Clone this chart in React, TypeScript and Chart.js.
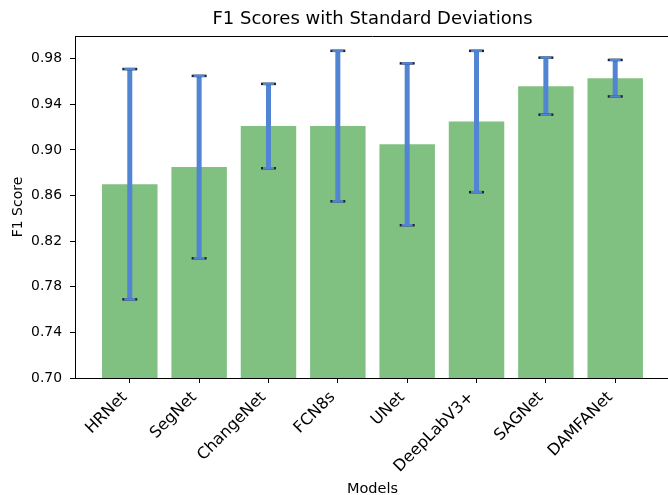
import React, { useEffect, useRef } from "react";
import { Chart, registerables } from "chart.js";

Chart.register(...registerables);

const CATEGORIES = ["HRNet", "SegNet", "ChangeNet", "FCN8s", "UNet", "DeepLabV3+", "SAGNet", "DAMFANet"];
const F1_MEANS = [0.870, 0.885, 0.921, 0.921, 0.905, 0.925, 0.956, 0.963];
const F1_STDS = [0.101, 0.080, 0.037, 0.066, 0.071, 0.062, 0.025, 0.016];
const Y_TICKS = [0.70, 0.74, 0.78, 0.82, 0.86, 0.90, 0.94, 0.98];

const FONT = "'DejaVu Sans', sans-serif";
const BAR_COLOR = "rgb(128,192,128)";
const ERR_COLOR = "rgb(82,132,212)";

const errorBarPlugin = {
  id: "errorBars",
  afterDatasetsDraw(chart: any) {
    const { ctx, scales } = chart;
    const xs = scales.x;
    const ys = scales.y;
    ctx.save();
    F1_MEANS.forEach((m, i) => {
      const s = F1_STDS[i];
      const x = xs.getPixelForValue(i);
      const yTop = ys.getPixelForValue(m + s);
      const yBot = ys.getPixelForValue(m - s);
      ctx.strokeStyle = ERR_COLOR;
      ctx.lineWidth = 5;
      ctx.lineCap = "butt";
      ctx.beginPath();
      ctx.moveTo(x, yTop);
      ctx.lineTo(x, yBot);
      ctx.stroke();
      [yTop, yBot].forEach((y) => {
        ctx.strokeStyle = "#222";
        ctx.lineWidth = 2.5;
        ctx.beginPath();
        ctx.moveTo(x - 7.5, y);
        ctx.lineTo(x + 7.5, y);
        ctx.stroke();
        ctx.strokeStyle = ERR_COLOR;
        ctx.beginPath();
        ctx.moveTo(x - 5.5, y);
        ctx.lineTo(x + 5.5, y);
        ctx.stroke();
      });
    });
    ctx.restore();
  },
};

const framePlugin = {
  id: "frame",
  afterDraw(chart: any) {
    const { ctx, chartArea } = chart;
    ctx.save();
    ctx.strokeStyle = "#000";
    ctx.lineWidth = 1;
    ctx.beginPath();
    ctx.moveTo(chartArea.left, chartArea.top + 0.5);
    ctx.lineTo(chartArea.right, chartArea.top + 0.5);
    ctx.moveTo(chartArea.right - 0.5, chartArea.top);
    ctx.lineTo(chartArea.right - 0.5, chartArea.bottom);
    ctx.stroke();
    ctx.restore();
  },
};

export default function App() {
  const ref = useRef<HTMLCanvasElement | null>(null);

  useEffect(() => {
    if (!ref.current) return;
    const chart = new Chart(ref.current, {
      type: "bar",
      data: {
        datasets: [
          {
            label: "F1",
            data: F1_MEANS.map((v, i) => ({ x: i, y: v })),
            backgroundColor: BAR_COLOR,
            borderWidth: 0,
            barPercentage: 0.8,
            categoryPercentage: 1.0,
          },
        ],
      },
      options: {
        animation: false,
        responsive: false,
        layout: { padding: { left: 0, right: 2, top: 0, bottom: 0 } },
        plugins: {
          legend: { display: false },
          tooltip: { enabled: false },
          title: {
            display: true,
            text: "F1 Scores with Standard Deviations",
            color: "#000",
            fullSize: false,
            font: { family: FONT, size: 18, weight: "normal", lineHeight: 1.2 },
            padding: { top: 9, bottom: 5.4 },
          },
        },
        scales: {
          x: {
            type: "linear",
            offset: false,
            min: -0.79,
            max: 7.79,
            afterBuildTicks: (scale: any) => {
              scale.ticks = CATEGORIES.map((_, i) => ({ value: i }));
            },
            afterFit: (scale: any) => {
              scale.height = 117;
            },
            ticks: {
              color: "#000",
              font: { family: FONT, size: 16 },
              minRotation: 45,
              maxRotation: 45,
              autoSkip: false,
              padding: 5,
              labelOffset: -5,
              callback: (v: any) => CATEGORIES[Math.round(Number(v))] ?? "",
            },
            grid: {
              display: true,
              offset: false,
              drawOnChartArea: false,
              drawTicks: true,
              tickLength: 5,
              tickColor: "#000",
            },
            border: { display: true, color: "#000", width: 1 },
            title: {
              display: true,
              text: "Models",
              color: "#000",
              font: { family: FONT, size: 14.5, lineHeight: 1.0 },
              padding: { top: 0, bottom: -1 },
            },
          },
          y: {
            type: "linear",
            min: 0.7,
            max: 1.0,
            afterBuildTicks: (scale: any) => {
              scale.ticks = Y_TICKS.map((v) => ({ value: v }));
            },
            afterFit: (scale: any) => {
              scale.width = 75;
            },
            ticks: {
              color: "#000",
              font: { family: FONT, size: 13.9 },
              padding: 8,
              callback: (v: any) => Number(v).toFixed(2),
            },
            grid: {
              display: true,
              drawOnChartArea: false,
              drawTicks: true,
              tickLength: 5,
              tickColor: "#000",
            },
            border: { display: true, color: "#000", width: 1 },
            title: {
              display: true,
              text: "F1 Score",
              color: "#000",
              font: { family: FONT, size: 14, lineHeight: 1.2 },
              padding: { top: 9.5, bottom: 0 },
            },
          },
        },
      },
      plugins: [errorBarPlugin, framePlugin],
    } as any);
    return () => chart.destroy();
  }, []);

  return (
    <div
      style={{
        position: "absolute",
        left: 0,
        top: 0,
        width: 668,
        height: 495,
        overflow: "hidden",
        background: "#fff",
      }}
    >
      <canvas ref={ref} width={672} height={495} style={{ width: 672, height: 495, display: "block" }} />
    </div>
  );
}
